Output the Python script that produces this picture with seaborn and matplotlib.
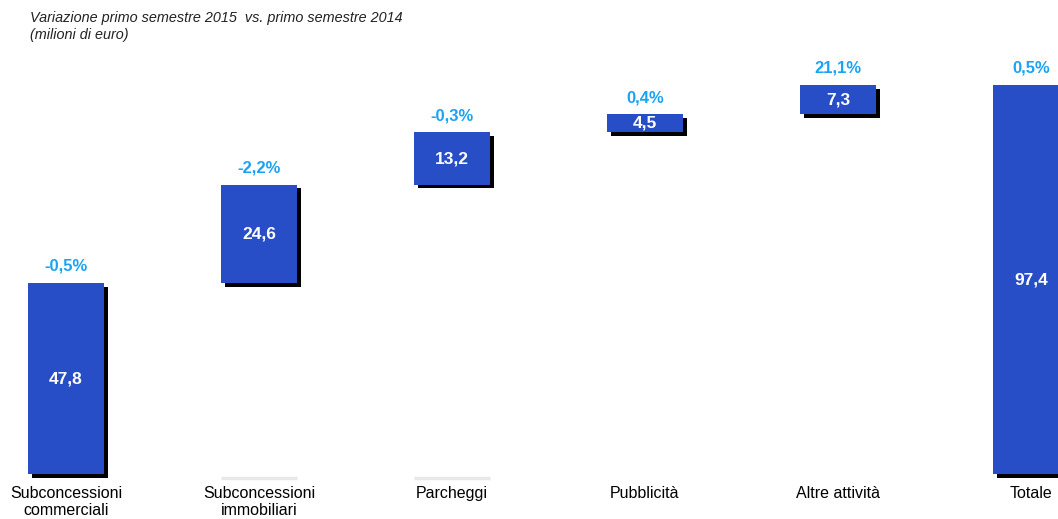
import matplotlib
matplotlib.use("Agg")
import matplotlib.pyplot as plt
import matplotlib.patheffects as pe
import seaborn as sns
import numpy as np

# ---- data ----
categories = ["Subconcessioni\ncommerciali", "Subconcessioni\nimmobiliari", "Parcheggi",
              "Pubblicità", "Altre attività", "Totale"]
values = [47.8, 24.6, 13.2, 4.5, 7.3, 97.4]
pct_labels = ["-0,5%", "-2,2%", "-0,3%", "0,4%", "21,1%", "0,5%"]
is_total = [False, False, False, False, False, True]
title = "Variazione primo semestre 2015  vs. primo semestre 2014\n(milioni di euro)"

# waterfall bottoms computed from the values
bottoms = []
run = 0.0
for v, t in zip(values, is_total):
    if t:
        bottoms.append(0.0)
    else:
        bottoms.append(run)
        run += v

sns.set_theme(style="white")
plt.rcParams["font.family"] = ["Liberation Sans", "DejaVu Sans"]

BLUE = "#274dc7"
PCT = "#1aa3f5"

fig = plt.figure(figsize=(10.58, 5.19), dpi=100)
ax = fig.add_axes([0, 0, 1, 1])

shadow = [pe.SimplePatchShadow(offset=(2.6, -2.6), shadow_rgbFace="black", alpha=1.0), pe.Normal()]

sns.barplot(x=categories, y=values, bottom=bottoms, order=categories, color=BLUE,
            saturation=1, width=0.394, ax=ax, linewidth=0, errorbar=None)
for p in ax.patches:
    p.set_path_effects(shadow)

# faint ghost baselines
ghost_idx = [1, 2]
for i in ghost_idx:
    ax.hlines(-1.0, i - 0.197, i + 0.197, color="#e8e8e8", lw=2.5, zorder=0)

for i, (v, b, pl, cat) in enumerate(zip(values, bottoms, pct_labels, categories)):
    ax.text(i, b + v / 2, f"{v:.1f}".replace(".", ","), ha="center", va="center",
            color="white", fontsize=12.5, fontweight="bold")
    ax.annotate(pl, xy=(i, b + v), xytext=(0, 12), textcoords="offset points",
                ha="center", va="center", color=PCT, fontsize=12, fontweight="bold")
    ax.annotate(cat, xy=(i, 0), xytext=(0, -8.5), textcoords="offset points",
                ha="center", va="top", color="black", fontsize=11.5, linespacing=1.22)

ax.set_xlim(-0.342, 5.140)
ax.set_ylim(-11.27, 118.7)
ax.axis("off")

fig.text(30 / 1058, 1 - 11 / 519, title, ha="left", va="top", fontsize=10.4,
         style="italic", linespacing=1.3, color="#222222")

fig.savefig("out.png", dpi=100)
